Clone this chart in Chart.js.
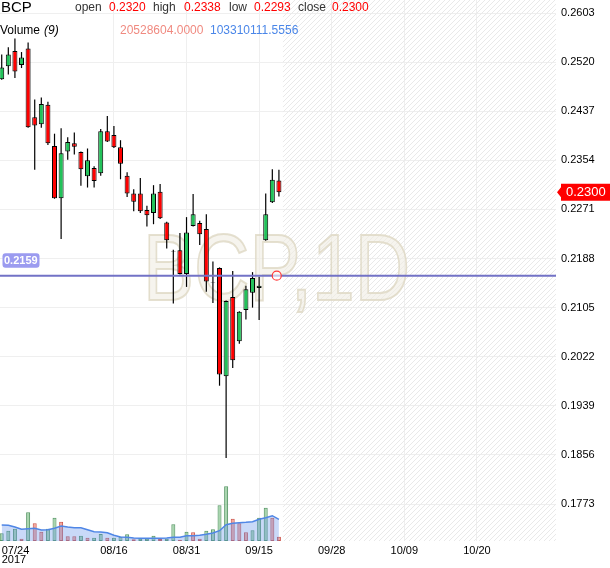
<!DOCTYPE html>
<html><head><meta charset="utf-8">
<script src="https://cdn.jsdelivr.net/npm/chart.js@4.4.0/dist/chart.umd.min.js"></script>
<style>html,body{margin:0;padding:0;background:#fff;}canvas{display:block;}</style>
</head><body>
<canvas id="c" width="610" height="568"></canvas>
<script>
const symbol = 'BCP';
const interval = '1D';
const year = '2017';
const maPeriod = 9;
const dates = ['07/24','07/25','07/26','07/27','07/28','07/31','08/01','08/02','08/03','08/04',
  '08/07','08/08','08/09','08/10','08/11','08/14','08/15','08/16','08/17','08/18',
  '08/21','08/22','08/23','08/24','08/25','08/28','08/29','08/30','08/31','09/01',
  '09/04','09/05','09/06','09/07','09/08','09/11','09/12','09/13','09/14','09/15',
  '09/18','09/19','09/20'];
const opens  = [0.2491,0.2513,0.2539,0.2515,0.2543,0.2427,0.2415,0.2448,0.2378,0.2290,0.2369,0.2383,0.2368,0.2327,0.2341,0.2332,0.2403,0.2397,0.2376,0.2328,0.2298,0.2298,0.2270,0.2265,0.2301,0.2249,0.2200,0.2202,0.2162,0.2243,0.2248,0.2238,0.2148,0.2172,0.1989,0.2123,0.2048,0.2101,0.2130,0.2138,0.2219,0.2283,0.2320];
const highs  = [0.2533,0.2545,0.2560,0.2537,0.2553,0.2457,0.2460,0.2453,0.2399,0.2408,0.2393,0.2401,0.2369,0.2374,0.2344,0.2407,0.2429,0.2412,0.2388,0.2334,0.2305,0.2324,0.2277,0.2312,0.2314,0.2250,0.2203,0.2231,0.2258,0.2297,0.2252,0.2263,0.2183,0.2173,0.2117,0.2167,0.2099,0.2142,0.2165,0.2157,0.2298,0.2339,0.2338];
const lows   = [0.2490,0.2499,0.2493,0.2510,0.2409,0.2338,0.2409,0.2380,0.2289,0.2221,0.2355,0.2364,0.2311,0.2308,0.2308,0.2328,0.2385,0.2375,0.2322,0.2292,0.2268,0.2265,0.2242,0.2246,0.2255,0.2205,0.2112,0.2161,0.2140,0.2242,0.2211,0.2132,0.2113,0.1973,0.1851,0.2003,0.2044,0.2085,0.2105,0.2084,0.2218,0.2282,0.2293];
const closes = [0.2511,0.2533,0.2504,0.2528,0.2410,0.2413,0.2449,0.2383,0.2290,0.2366,0.2385,0.2377,0.2339,0.2354,0.2319,0.2403,0.2386,0.2376,0.2348,0.2298,0.2284,0.2268,0.2261,0.2298,0.2256,0.2219,0.2199,0.2162,0.2232,0.2263,0.2229,0.2149,0.2147,0.1992,0.2116,0.2016,0.2098,0.2136,0.2155,0.2142,0.2263,0.2321,0.2300];
const volumes = [36600000,49000000,58500000,11000000,136600000,84300000,44300000,58500000,111000000,92000000,
  22400000,22400000,25200000,15700000,15700000,33300000,15700000,15700000,20500000,31900000,
  8100000,11000000,11000000,25200000,9500000,11000000,79500000,6200000,44300000,41400000,
  11000000,49000000,55700000,170000000,260000000,106000000,84300000,41400000,51000000,111000000,
  158500000,111000000,20528604];
const volumeDir = ['u','u','u','d','u','d','d','u','u','d','d','d','u','d','u','u','d','u','u','u',
  'd','u','u','u','d','u','u','d','u','d','d','u','u','u','u','d','d','d','u','u','u','d','d'];
const volumeMA = [76200000,74700000,66600000,55700000,58500000,60500000,52400000,53800000,60500000,71400000,
  66600000,63300000,63300000,53800000,44300000,42800000,39500000,27100000,19000000,17600000,
  14300000,12900000,12900000,12900000,12900000,14300000,17600000,17600000,25200000,25200000,
  27100000,31900000,38100000,49000000,77600000,84300000,87100000,89000000,91900000,103300000,
  110900000,120400000,103310111.5556];
const yTicks = [0.2603,0.2520,0.2437,0.2354,0.2271,0.2188,0.2105,0.2022,0.1939,0.1856,0.1773];
const xTickIdx = [0,17,28,39,50,61,72];
const xTickLabels = ['07/24','08/16','08/31','09/15','09/28','10/09','10/20'];
const hLineValue = 0.2159;
const markerIdx = 41.67;
const futureStart = 42.6;
const yMin = 0.17105, yMax = 0.2625;
const xMin = -0.26, xMax = 83.98;
const volAxisMax = 2575000000;

const FONT = '"Liberation Sans", Arial, sans-serif';
const GREEN = '#22c25a', RED = '#ff0000';
const last = closes.length - 1;

// hatch pattern
const pc = document.createElement('canvas'); pc.width = 5; pc.height = 5;
const pctx = pc.getContext('2d');
pctx.strokeStyle = '#e9e9e9'; pctx.lineWidth = 1;
pctx.beginPath();
pctx.moveTo(0,5); pctx.lineTo(5,0);
pctx.moveTo(-1,1); pctx.lineTo(1,-1);
pctx.moveTo(4,6); pctx.lineTo(6,4);
pctx.stroke();

const wickData = dates.map((d,i)=>({x:i, y:[lows[i], highs[i]]}));
const bodyData = dates.map((d,i)=>({x:i, y:[opens[i], closes[i]]}));
const bodyColors = dates.map((d,i)=> closes[i] >= opens[i] ? GREEN : RED);
const volData = dates.map((d,i)=>({x:i, y:volumes[i]}));
const volFill = volumeDir.map(v => v==='u' ? 'rgba(110,185,120,0.6)' : 'rgba(240,110,90,0.6)');
const volBorder = volumeDir.map(v => v==='u' ? 'rgba(70,140,85,0.9)' : 'rgba(200,70,60,0.9)');
const maData = dates.map((d,i)=>({x:i, y:volumeMA[i]}));

const deco = {
  id: 'deco',
  beforeDatasetsDraw(chart) {
    const {ctx, chartArea:a, scales:{x}} = chart;
    const fx = x.getPixelForValue(futureStart);
    ctx.save();
    ctx.fillStyle = ctx.createPattern(pc, 'repeat');
    ctx.fillRect(fx, a.top, a.right - fx, a.bottom - a.top);
    // watermark
    ctx.font = '95px ' + FONT;
    const txt = symbol + ',' + interval;
    const w = ctx.measureText(txt).width;
    const sx = 267 / w;
    ctx.translate(276.5, 300);
    ctx.scale(sx, 1);
    ctx.textAlign = 'center'; ctx.textBaseline = 'alphabetic';
    ctx.fillStyle = 'rgba(240,237,226,0.6)';
    ctx.fillText(txt, 0, 0);
    ctx.lineWidth = 2;
    ctx.strokeStyle = 'rgba(220,214,192,0.75)';
    ctx.strokeText(txt, 0, 0);
    ctx.restore();
  },
  afterDatasetsDraw(chart) {
    const {ctx, chartArea:a, scales:{x,y}} = chart;
    const ly = y.getPixelForValue(hLineValue);
    ctx.save();
    ctx.strokeStyle = '#7272c6'; ctx.lineWidth = 2;
    ctx.beginPath(); ctx.moveTo(a.left, ly); ctx.lineTo(a.right, ly); ctx.stroke();
    // marker circle
    ctx.beginPath();
    ctx.arc(x.getPixelForValue(markerIdx), ly, 4.5, 0, Math.PI*2);
    ctx.fillStyle = 'rgba(255,255,255,0.6)'; ctx.fill();
    ctx.strokeStyle = '#ff3b3b'; ctx.lineWidth = 1.2; ctx.stroke();
    // left label
    ctx.fillStyle = '#9b9bf0';
    ctx.beginPath();
    if (ctx.roundRect) ctx.roundRect(2.5, ly - 22.5, 37, 14.5, 3); else ctx.rect(2.5, ly-22.5, 37, 14.5);
    ctx.fill();
    ctx.fillStyle = '#fff'; ctx.font = 'bold 11px ' + FONT;
    ctx.textAlign = 'left'; ctx.textBaseline = 'middle';
    ctx.fillText(hLineValue.toFixed(4), 4, ly - 15);
    ctx.restore();
  },
  afterDraw(chart) {
    const {ctx, chartArea:a, scales:{x,y}} = chart;
    ctx.save();
    // price label
    const py = y.getPixelForValue(closes[last]);
    ctx.fillStyle = RED;
    ctx.beginPath();
    ctx.moveTo(a.right + 1, py);
    ctx.lineTo(a.right + 5, py - 5);
    ctx.lineTo(a.right + 5, py - 8.5);
    ctx.lineTo(614, py - 8.5);
    ctx.lineTo(614, py + 8.5);
    ctx.lineTo(a.right + 5, py + 8.5);
    ctx.lineTo(a.right + 5, py + 5);
    ctx.closePath(); ctx.fill();
    ctx.fillStyle = '#fff'; ctx.font = '13px ' + FONT;
    ctx.textAlign = 'left'; ctx.textBaseline = 'middle';
    ctx.fillText(closes[last].toFixed(4), a.right + 10, py + 0.5);
    // x labels
    ctx.fillStyle = '#000'; ctx.font = '11px ' + FONT; ctx.textBaseline = 'alphabetic';
    xTickIdx.forEach((v, k) => {
      const px = x.getPixelForValue(v);
      if (k === 0) { ctx.textAlign = 'left'; ctx.fillText(xTickLabels[k], px, 554); ctx.fillText(year, px, 563); }
      else { ctx.textAlign = 'center'; ctx.fillText(xTickLabels[k], px, 554); }
    });
    // header
    ctx.textAlign = 'left';
    ctx.font = '15px ' + FONT; ctx.fillStyle = '#000';
    ctx.fillText(symbol, 1, 12);
    ctx.font = '12px ' + FONT;
    const items = [['open', opens[last], 75, 109], ['high', highs[last], 153, 184], ['low', lows[last], 229, 254], ['close', closes[last], 298, 332]];
    items.forEach(it => {
      ctx.fillStyle = '#333'; ctx.fillText(it[0], it[2], 11);
      ctx.fillStyle = RED; ctx.fillText(it[1].toFixed(4), it[3], 11);
    });
    ctx.fillStyle = '#000'; ctx.fillText('Volume ', 0, 34);
    ctx.font = 'italic 12px ' + FONT; ctx.fillText('(' + maPeriod + ')', 44, 34);
    ctx.font = '12px ' + FONT;
    ctx.fillStyle = '#f08a80'; ctx.fillText(volumes[last].toFixed(4), 120, 34);
    ctx.fillStyle = '#4a86e8'; ctx.fillText(volumeMA[last].toFixed(4), 210, 34);
    ctx.restore();
  }
};

new Chart(document.getElementById('c'), {
  type: 'bar',
  data: {
    datasets: [
      { type:'bar', label:'body', data: bodyData, backgroundColor: bodyColors, borderColor:'#000', borderWidth:1, borderSkipped:false, barThickness:5, inflateAmount:0, grouped:false, order:0, yAxisID:'y' },
      { type:'bar', label:'wick', data: wickData, backgroundColor:'#000', borderWidth:0, barThickness:1.2, inflateAmount:0, grouped:false, order:1, yAxisID:'y' },
      { type:'line', label:'volMA', data: maData, borderColor:'#4f86e6', borderWidth:1.5, backgroundColor:'rgba(100,145,235,0.35)', fill:'origin', pointRadius:0, tension:0, order:2, yAxisID:'yv' },
      { type:'bar', label:'volume', data: volData, backgroundColor: volFill, borderColor: volBorder, borderWidth:1, borderSkipped:false, barThickness:4, inflateAmount:0, grouped:false, order:3, yAxisID:'yv' }
    ]
  },
  options: {
    responsive:false, animation:false, devicePixelRatio:1,
    layout:{padding:{left:0,right:0,top:0,bottom:27}},
    plugins:{legend:{display:false}, tooltip:{enabled:false}},
    scales:{
      x:{ type:'linear', min:xMin, max:xMax, offset:false,
          grid:{color:'#efefef', drawTicks:false, offset:false},
          border:{display:false}, ticks:{display:false},
          afterBuildTicks: s => { s.ticks = xTickIdx.filter(v => v > 0).map(v => ({value:v})); },
          afterFit: s => { s.paddingLeft = 0; s.paddingRight = 0; s.height = 0; } },
      y:{ type:'linear', position:'right', min:yMin, max:yMax, beginAtZero:false,
          grid:{color:'#efefef', drawTicks:false}, border:{display:false},
          ticks:{padding:5, color:'#000', font:{size:11, family:FONT}, callback: v => Number(v).toFixed(4)},
          afterBuildTicks: s => { s.ticks = yTicks.map(v => ({value:v})); },
          afterFit: s => { s.width = 54; s.paddingTop = 0; s.paddingBottom = 0; } },
      yv:{ type:'linear', display:false, min:0, max:volAxisMax, beginAtZero:true }
    }
  },
  plugins:[deco]
});
</script>
</body></html>
